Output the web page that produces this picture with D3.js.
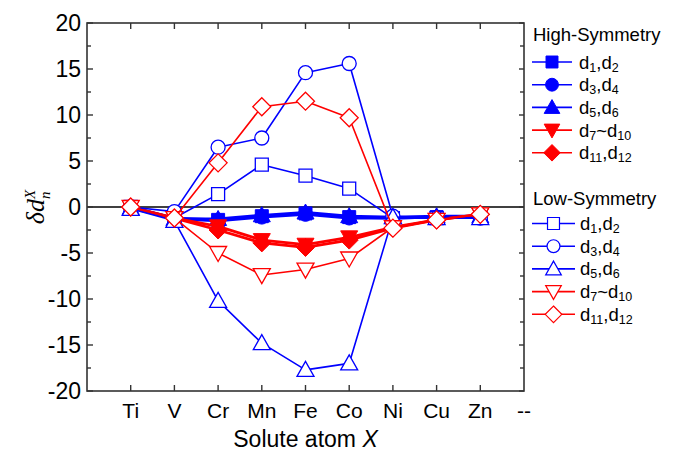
<!DOCTYPE html>
<html>
<head>
<meta charset="utf-8">
<script src="https://cdn.jsdelivr.net/npm/d3@7"></script>
<style>
  html, body { margin: 0; padding: 0; background: #fff; }
  svg { display: block; }
  text { font-family: "Liberation Sans", Arial, sans-serif; fill: #000; }
</style>
</head>
<body>
<svg id="chart" width="690" height="462"></svg>
<script>
// Solute atoms along the x axis (the last slot is a placeholder label)
const solutes = ["Ti", "V", "Cr", "Mn", "Fe", "Co", "Ni", "Cu", "Zn"];
const xTickLabels = ["Ti", "V", "Cr", "Mn", "Fe", "Co", "Ni", "Cu", "Zn", "--"];
const yTicks = [-20, -15, -10, -5, 0, 5, 10, 15, 20];

// High-symmetry bond length changes
const hs_d1d2   = [0.0, -1.2, -1.4, -1.0, -0.7, -1.1, -1.2, -1.1, -1.1];
const hs_d3d4   = [0.0, -1.3, -1.5, -1.1, -0.8, -1.2, -1.2, -1.1, -1.1];
const hs_d5d6   = [-0.1, -1.3, -1.3, -0.9, -0.6, -1.0, -1.1, -1.0, -1.0];
const hs_d7d10  = [0.0, -1.2, -2.1, -3.6, -4.1, -3.3, -2.2, -1.4, -0.8];
const hs_d11d12 = [0.0, -1.2, -2.5, -3.9, -4.4, -3.6, -2.3, -1.4, -0.8];

// Low-symmetry bond length changes
const ls_d1d2   = [0.0, -1.2, 1.4, 4.6, 3.4, 2.0, -1.2, -1.2, -1.1];
const ls_d3d4   = [0.0, -0.5, 6.5, 7.5, 14.6, 15.6, -1.0, -1.2, -1.2];
const ls_d5d6   = [-0.2, -1.5, -10.2, -14.8, -17.7, -17.0, -1.1, -1.2, -1.2];
const ls_d7d10  = [0.0, -1.2, -5.0, -7.4, -6.8, -5.6, -2.2, -1.4, -0.8];
const ls_d11d12 = [0.0, -1.2, 4.8, 10.9, 11.5, 9.7, -2.3, -1.4, -0.8];

const BLUE = "#0000ff", RED = "#ff0000";

const series = [
  { values: hs_d1d2,   color: BLUE, shape: "square",   filled: true,  main: "d", s1: "1", s2: "2", sep: "," },
  { values: hs_d3d4,   color: BLUE, shape: "circle",   filled: true,  main: "d", s1: "3", s2: "4", sep: "," },
  { values: hs_d5d6,   color: BLUE, shape: "triangle", filled: true,  main: "d", s1: "5", s2: "6", sep: "," },
  { values: hs_d7d10,  color: RED,  shape: "invtri",   filled: true,  main: "d", s1: "7", s2: "10", sep: "~" },
  { values: hs_d11d12, color: RED,  shape: "diamond",  filled: true,  main: "d", s1: "11", s2: "12", sep: "," },
  { values: ls_d1d2,   color: BLUE, shape: "square",   filled: false, main: "d", s1: "1", s2: "2", sep: "," },
  { values: ls_d3d4,   color: BLUE, shape: "circle",   filled: false, main: "d", s1: "3", s2: "4", sep: "," },
  { values: ls_d5d6,   color: BLUE, shape: "triangle", filled: false, main: "d", s1: "5", s2: "6", sep: "," },
  { values: ls_d7d10,  color: RED,  shape: "invtri",   filled: false, main: "d", s1: "7", s2: "10", sep: "~" },
  { values: ls_d11d12, color: RED,  shape: "diamond",  filled: false, main: "d", s1: "11", s2: "12", sep: "," }
];

const svg = d3.select("#chart");
const plotLeft = 87, plotRight = 524, plotTop = 23, plotBottom = 391;

const x = d3.scaleLinear().domain([-1, 9]).range([plotLeft, plotRight]);
const y = d3.scaleLinear().domain([-20, 20]).range([plotBottom, plotTop]);

// Marker outlines
function markerPath(shape, k) {
  k = k || 1;
  switch (shape) {
    case "square": { const s = 6.5 * k; return `M${-s},${-s}H${s}V${s}H${-s}Z`; }
    case "circle": { const r = 7 * k; return `M${r},0A${r},${r} 0 1,1 ${-r},0A${r},${r} 0 1,1 ${r},0Z`; }
    case "triangle": { const w = 8.5 * k, h1 = 8.5 * k, h2 = 6.5 * k; return `M0,${-h1}L${w},${h2}L${-w},${h2}Z`; }
    case "invtri": { const w = 8.5 * k, h1 = 8.5 * k, h2 = 6.5 * k; return `M0,${h1}L${w},${-h2}L${-w},${-h2}Z`; }
    case "diamond": { const d = 9 * k; return `M0,${-d}L${d},0L0,${d}L${-d},0Z`; }
  }
}

// Zero reference line
svg.append("line")
  .attr("x1", plotLeft).attr("x2", plotRight)
  .attr("y1", y(0)).attr("y2", y(0))
  .attr("stroke", "#000").attr("stroke-width", 1.5);

// Series lines and markers
const line = d3.line().x((d, i) => x(i)).y(d => y(d));
const plot = svg.append("g");
series.forEach(s => {
  const g = plot.append("g");
  g.append("path")
    .attr("d", line(s.values))
    .attr("fill", "none")
    .attr("stroke", s.color)
    .attr("stroke-width", s.filled ? 2.8 : 1.6)
    .attr("stroke-linejoin", "round");
  g.selectAll("path.m")
    .data(s.values)
    .join("path")
    .attr("class", "m")
    .attr("transform", (d, i) => `translate(${x(i)},${y(d)})`)
    .attr("d", markerPath(s.shape))
    .attr("fill", s.filled ? s.color : "#fff")
    .attr("stroke", s.color)
    .attr("stroke-width", s.filled ? 1 : 1.3);
});

// Frame
const axisColor = "#333";
svg.append("rect")
  .attr("x", plotLeft).attr("y", plotTop)
  .attr("width", plotRight - plotLeft).attr("height", plotBottom - plotTop)
  .attr("fill", "none").attr("stroke", axisColor).attr("stroke-width", 1.6);

// Y ticks (major and minor) on left and right, pointing inward
const yMinor = d3.range(-17.5, 20, 5);
const tickG = svg.append("g").attr("stroke", axisColor).attr("stroke-width", 1.4);
yTicks.forEach(v => {
  tickG.append("line").attr("x1", plotLeft).attr("x2", plotLeft + 6).attr("y1", y(v)).attr("y2", y(v));
  tickG.append("line").attr("x1", plotRight).attr("x2", plotRight - 5).attr("y1", y(v)).attr("y2", y(v));
});
yMinor.forEach(v => {
  tickG.append("line").attr("x1", plotLeft).attr("x2", plotLeft + 4).attr("y1", y(v)).attr("y2", y(v));
  tickG.append("line").attr("x1", plotRight).attr("x2", plotRight - 4).attr("y1", y(v)).attr("y2", y(v));
});
// X ticks at each solute, bottom and top, pointing inward
solutes.forEach((c, i) => {
  tickG.append("line").attr("x1", x(i)).attr("x2", x(i)).attr("y1", plotBottom).attr("y2", plotBottom - 6);
  tickG.append("line").attr("x1", x(i)).attr("x2", x(i)).attr("y1", plotTop).attr("y2", plotTop + 6);
});

// Y tick labels
svg.append("g").selectAll("text")
  .data(yTicks)
  .join("text")
  .attr("x", 81).attr("y", d => y(d))
  .attr("dy", "0.36em")
  .attr("text-anchor", "end")
  .attr("font-size", 23)
  .text(d => d);

// X tick labels
svg.append("g").selectAll("text")
  .data(xTickLabels)
  .join("text")
  .attr("x", (d, i) => x(i))
  .attr("y", 418)
  .attr("text-anchor", "middle")
  .attr("font-size", 21)
  .text(d => d);

// X axis title
const xt = svg.append("text")
  .attr("x", (plotLeft + plotRight) / 2).attr("y", 447)
  .attr("text-anchor", "middle")
  .attr("font-size", 23);
xt.append("tspan").text("Solute atom ");
xt.append("tspan").attr("font-style", "italic").text("X");

// Y axis title
const yt = svg.append("text")
  .attr("transform", "translate(44,207) rotate(-90)")
  .attr("text-anchor", "middle")
  .attr("font-style", "italic")
  .attr("font-size", 26)
  .style("font-family", "'Liberation Serif', 'Times New Roman', serif");
yt.append("tspan").text("δd");
yt.append("tspan").attr("font-size", 15).attr("dy", -9).text("X");
yt.append("tspan").attr("font-size", 15).attr("dx", -9).attr("dy", 15).text("n");

// Legends
function drawLegend(title, titleY, rows, rowY0, lineX1, lineX2, textX) {
  const lg = svg.append("g");
  lg.append("text").attr("x", 533).attr("y", titleY).attr("font-size", 18.5).text(title);
  rows.forEach((s, i) => {
    const yy = rowY0 + i * 22.7;
    const mx = (lineX1 + lineX2) / 2;
    lg.append("line").attr("x1", lineX1).attr("x2", lineX2).attr("y1", yy).attr("y2", yy)
      .attr("stroke", s.color).attr("stroke-width", 1.6);
    lg.append("path").attr("transform", `translate(${mx},${yy})`)
      .attr("d", markerPath(s.shape, 0.92))
      .attr("fill", s.filled ? s.color : "#fff")
      .attr("stroke", s.color).attr("stroke-width", s.filled ? 1 : 1.2);
    const t = lg.append("text").attr("x", textX).attr("y", yy + 6.5).attr("font-size", 18.5);
    t.append("tspan").text(s.main);
    t.append("tspan").attr("font-size", 12.5).attr("dy", 3).text(s.s1);
    t.append("tspan").attr("dy", -3).text(s.sep + s.main);
    t.append("tspan").attr("font-size", 12.5).attr("dy", 3).text(s.s2);
  });
}
drawLegend("High-Symmetry", 41, series.slice(0, 5), 62, 532, 572, 579);
drawLegend("Low-Symmetry", 205, series.slice(5), 223.5, 532, 575, 580);
</script>
</body>
</html>
